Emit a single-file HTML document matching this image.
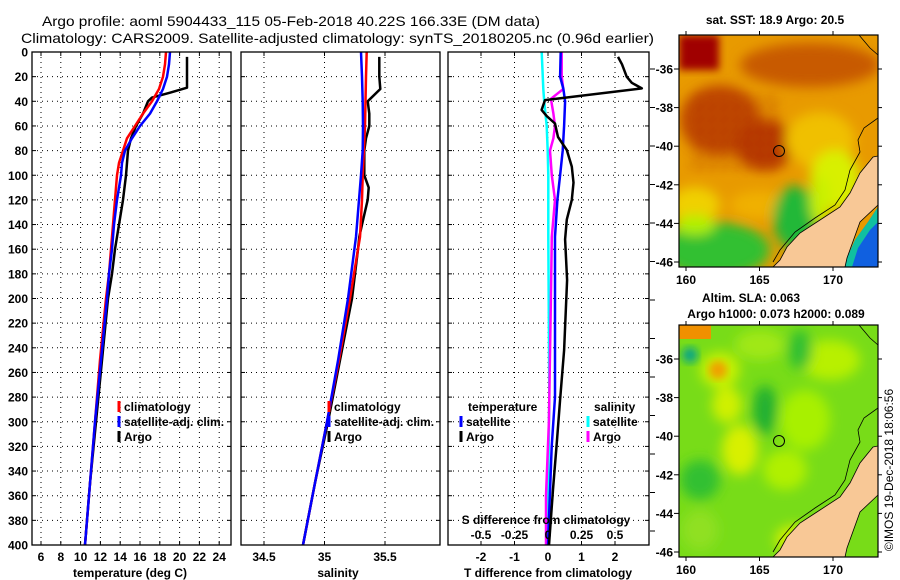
<!DOCTYPE html>
<html><head><meta charset="utf-8">
<style>
html,body{margin:0;padding:0;background:#fff;}
svg{display:block;font-family:"Liberation Sans",sans-serif;}
.t{font-size:12px;font-weight:bold;fill:#000;}
.ttl{font-size:14px;fill:#000;}
</style></head>
<body>
<svg id="fig" width="900" height="580" viewBox="0 0 900 580" xmlns="http://www.w3.org/2000/svg">
<rect x="0" y="0" width="900" height="580" fill="#fff"/>
<text class="ttl" x="42" y="26" textLength="498" lengthAdjust="spacingAndGlyphs">Argo profile: aoml 5904433_115 05-Feb-2018 40.22S 166.33E (DM data)</text>
<text class="ttl" x="21" y="43" textLength="633" lengthAdjust="spacingAndGlyphs">Climatology: CARS2009. Satellite-adjusted climatology: synTS_20180205.nc (0.96d earlier)</text>

<g id="p1"></g>
<g id="p2"></g>
<g id="p3"></g>

<defs>
<filter id="bl" x="-20%" y="-20%" width="140%" height="140%"><feGaussianBlur stdDeviation="6"/></filter>
<filter id="bl2" x="-20%" y="-20%" width="140%" height="140%"><feGaussianBlur stdDeviation="4"/></filter>
<clipPath id="c1"><rect x="679" y="35" width="199" height="232"/></clipPath>
<clipPath id="c2"><rect x="679" y="325" width="199" height="232"/></clipPath>
<pattern id="mottle" width="12" height="12" patternUnits="userSpaceOnUse">
<rect x="0" y="0" width="4" height="4" fill="#a81800"/><rect x="8" y="4" width="4" height="4" fill="#c05000"/><rect x="4" y="8" width="4" height="4" fill="#a00000"/>
</pattern>
</defs>

<!-- SST map -->
<g>
<text class="t" x="775" y="24" text-anchor="middle">sat. SST: 18.9 Argo: 20.5</text>
<g clip-path="url(#c1)">
<rect x="679" y="35" width="199" height="232" fill="#e89a00"/>
<g filter="url(#bl)">
<ellipse cx="810" cy="65" rx="70" ry="22" fill="#c85a00"/>
<ellipse cx="720" cy="120" rx="40" ry="35" fill="#c04800"/>
<ellipse cx="765" cy="145" rx="30" ry="25" fill="#b83a00"/>
<ellipse cx="820" cy="140" rx="35" ry="28" fill="#f0c000"/>
<ellipse cx="695" cy="205" rx="25" ry="18" fill="#f0d000"/>
<ellipse cx="760" cy="205" rx="30" ry="14" fill="#f0b000"/>
<ellipse cx="835" cy="180" rx="25" ry="30" fill="#d8f000"/>
<ellipse cx="715" cy="250" rx="55" ry="28" fill="#30c030"/>
<ellipse cx="695" cy="225" rx="20" ry="10" fill="#b0f000"/>
<ellipse cx="795" cy="218" rx="22" ry="32" fill="#20b838"/>
<ellipse cx="820" cy="200" rx="10" ry="25" fill="#c8f000"/>
</g>
<rect x="690" y="95" width="90" height="75" fill="url(#mottle)" opacity="0.5" filter="url(#bl2)"/>
<rect x="679" y="35" width="40" height="35" fill="#a00000" filter="url(#bl2)"/>
<polygon points="878,207 868,222 855,240 847,258 845,267 878,267" fill="#1060e0"/>
<polygon points="878,207 868,222 855,240 847,258 845,267 852,267 858,248 870,230 878,222" fill="#10c0a0"/>
<polygon points="873,157 878,156 878,205 860,222 847,258 845,267 773,267 780,260 787,247 800,233 820,220 840,207 850,193 860,173" fill="#f8c896" stroke="#000" stroke-width="0.8"/>
<polyline points="859,35 870,48 878,55" fill="none" stroke="#000" stroke-width="0.8"/>
<polyline points="878,118 864,128 858,140 860,152 850,170 845,190 835,205 815,218 795,232 780,250 773,262" fill="none" stroke="#000" stroke-width="0.8"/>
<circle cx="779" cy="151" r="5.5" fill="none" stroke="#000" stroke-width="1"/>
</g>
<rect x="679" y="35" width="199" height="232" fill="none" stroke="#000" stroke-width="1.2"/>
</g>

<!-- SLA map -->
<g>
<text class="t" x="751" y="302" text-anchor="middle">Altim. SLA: 0.063</text>
<text class="t" x="776" y="318" text-anchor="middle">Argo h1000: 0.073 h2000: 0.089</text>
<g clip-path="url(#c2)">
<rect x="679" y="325" width="199" height="232" fill="#78dc18"/>
<g filter="url(#bl)">
<ellipse cx="720" cy="370" rx="20" ry="18" fill="#c8f000"/>
<ellipse cx="760" cy="345" rx="25" ry="15" fill="#a0e818"/>
<ellipse cx="830" cy="360" rx="30" ry="20" fill="#b8f000"/>
<ellipse cx="727" cy="405" rx="15" ry="18" fill="#d0f000"/>
<ellipse cx="740" cy="450" rx="18" ry="25" fill="#d8f000"/>
<ellipse cx="785" cy="470" rx="22" ry="20" fill="#b0f000"/>
<ellipse cx="805" cy="420" rx="25" ry="30" fill="#a8f000"/>
<ellipse cx="700" cy="480" rx="20" ry="20" fill="#30c030"/>
<ellipse cx="765" cy="410" rx="12" ry="25" fill="#20b030"/>
<ellipse cx="800" cy="350" rx="12" ry="20" fill="#30c030"/>
<ellipse cx="795" cy="540" rx="20" ry="15" fill="#d0f000"/>
<ellipse cx="700" cy="530" rx="18" ry="20" fill="#90e020"/>
</g>
<ellipse cx="718" cy="370" rx="9" ry="9" fill="#f0a000" filter="url(#bl2)"/>
<ellipse cx="690" cy="355" rx="8" ry="8" fill="#10a880" filter="url(#bl2)"/>
<rect x="679" y="325" width="32" height="14" fill="#f09000"/>
<polygon points="873,447 878,446 878,495 860,512 847,548 845,557 773,557 780,550 787,537 800,523 820,510 840,497 850,483 860,463" fill="#f8c896" stroke="#000" stroke-width="0.8"/>
<polyline points="859,325 870,338 878,345" fill="none" stroke="#000" stroke-width="0.8"/>
<polyline points="878,408 864,418 858,430 860,442 850,460 845,480 835,495 815,508 795,522 780,540 773,552" fill="none" stroke="#000" stroke-width="0.8"/>
<circle cx="779" cy="441" r="5.5" fill="none" stroke="#000" stroke-width="1"/>
</g>
<rect x="679" y="325" width="199" height="232" fill="none" stroke="#000" stroke-width="1.2"/>
</g>
<g id="mapaxes"></g>
<text x="893" y="470" font-size="12" text-anchor="middle" transform="rotate(-90 893 470)" style="font-family:'Liberation Sans',sans-serif">©IMOS 19-Dec-2018 18:06:56</text>
</svg>
<script>
// shared depth axis
const depthTicks = [0,20,40,60,80,100,120,140,160,180,200,220,240,260,280,300,320,340,360,380,400];
// temperature panel data
const tempTickLabels = [6,8,10,12,14,16,18,20,22,24];
const climDepth = [0,10,20,30,40,50,60,70,80,90,100,120,140,160,180,200,250,300,350,400];
const climTemp = [18.63,18.53,18.32,17.92,17.21,16.30,15.49,14.69,14.28,13.88,13.68,13.47,13.27,13.07,12.87,12.57,11.96,11.45,10.95,10.44];
const satTemp = [19.03,18.93,18.73,18.32,17.72,17.01,16.0,15.19,14.48,14.18,14.08,13.68,13.37,13.17,12.87,12.67,12.06,11.45,10.95,10.44];
const argoTDepth = [4,10,20,29,33,37,40,50,60,70,80,90,100,120,140,160,180,200,250,300,350,400];
const argoTemp = [20.75,20.75,20.75,20.75,19.03,17.21,16.81,16.30,15.60,15.09,14.79,14.69,14.59,14.28,13.88,13.47,13.17,12.77,12.16,11.56,10.95,10.44];
// salinity panel data
const salTickLabels = [34.5,35,35.5];
const climSDepth = [0,20,40,60,80,100,120,150,200,250,300,350,400];
const climSal = [35.349,35.343,35.339,35.335,35.326,35.316,35.310,35.293,35.211,35.120,35.021,34.921,34.822];
const satSal = [35.302,35.310,35.316,35.318,35.316,35.302,35.285,35.260,35.194,35.112,35.021,34.921,34.822];
const argoSDepth = [4,20,30,40,50,60,70,80,100,110,120,140,150,160,180,200,250,300,350,400];
const argoSal = [35.453,35.453,35.461,35.357,35.370,35.370,35.343,35.329,35.329,35.365,35.357,35.310,35.288,35.277,35.252,35.227,35.128,35.029,34.921,34.822];
// difference panel data
const tdiffTickLabels = [-2,-1,0,1,2];
const sdiffTickLabels = [-0.5,-0.25,0,0.25,0.5];
const argoTdDepth = [4,10,20,25,29.5,39,47,52,58,69,79.5,93,106,120,136,152,185,242,282,315,355,400];
const argoTdiff = [2.09,2.21,2.35,2.50,2.80,-0.09,-0.19,-0.04,0.21,0.30,0.56,0.71,0.76,0.71,0.56,0.51,0.57,0.48,0.36,0.27,0.15,0.03];
const satTdDepth = [0,20,30,40,60,80,100,120,150,200,280,320,400];
const satTdiff = [0.38,0.36,0.46,0.51,0.48,0.44,0.36,0.28,0.21,0.21,0.21,0.11,0.0];
const argoSdDepth = [0,20,30,38,50,60,70,80,100,120,150,200,300,360,400];
const argoSdiff = [0.102,0.102,0.114,0.022,0.040,0.052,0.040,0.015,0.028,0.052,0.028,0.022,0.007,-0.015,-0.015];
const satSdDepth = [0,30,40,60,80,100,150,280,400];
const satSdiff = [-0.047,-0.035,-0.028,-0.010,-0.002,0.002,0.002,0.010,-0.004];
// map axes
const latLabels = [-36,-38,-40,-42,-44,-46];
const lonLabels = [160,165,170];

const NS='http://www.w3.org/2000/svg';
function mk(tag, attrs, parent, txt){const e=document.createElementNS(NS,tag);for(const k in attrs)e.setAttribute(k,attrs[k]);if(txt!==undefined)e.textContent=txt;parent.appendChild(e);return e;}
const Y0=52, Y1=545;
const yD = d => Y0 + d*(Y1-Y0)/400;

function panel(g, L, R, xf, xticks, fmt, gridOnly){
  mk('rect',{x:L,y:Y0,width:R-L,height:Y1-Y0,fill:'#fff',stroke:'none'},g);
  depthTicks.forEach(d=>{
    if(d>0&&d<400){const l=mk('line',{x1:L,x2:R,y1:yD(d),y2:yD(d),stroke:'#000','stroke-width':1,'stroke-dasharray':'1,4'},g);
    
    }
  });
  xticks.forEach(v=>{
    const x=xf(v);
    const l=mk('line',{x1:x,x2:x,y1:Y0,y2:Y1,stroke:'#000','stroke-width':1,'stroke-dasharray':'1,4'},g);
    
    
    mk('line',{x1:x,x2:x,y1:Y1,y2:Y1-4,stroke:'#000'},g);
    mk('line',{x1:x,x2:x,y1:Y0,y2:Y0+4,stroke:'#000'},g);
    if(!gridOnly){const t=mk('text',{x:x,y:561,'text-anchor':'middle',class:'t'},g,fmt(v));
    
    }
  });
  depthTicks.forEach(d=>{mk('line',{x1:L,x2:L+4,y1:yD(d),y2:yD(d),stroke:'#000'},g);mk('line',{x1:R,x2:R-4,y1:yD(d),y2:yD(d),stroke:'#000'},g);});
}
function line(g, xs, ds, xf, color, w, name){
  const pts = xs.map((v,i)=>xf(v).toFixed(1)+','+yD(ds[i]).toFixed(1)).join(' ');
  const p=mk('polyline',{points:pts,fill:'none',stroke:color,'stroke-width':w,'stroke-linejoin':'round'},g);
  
  
}
function frame(g,L,R){mk('rect',{x:L,y:Y0,width:R-L,height:Y1-Y0,fill:'none',stroke:'#000','stroke-width':1.3},g);}
function legendRow(g,x,y,color,label,name){
  mk('line',{x1:x,x2:x,y1:y-10,y2:y+1,stroke:color,'stroke-width':3},g);
  const t=mk('text',{x:x+5,y:y,class:'t'},g,label);
  
  
}

// Panel 1
const g1=document.getElementById('p1');
const xT = v => 41 + (v-6)*9.9;
panel(g1,32,231,xT,tempTickLabels,v=>String(v));
line(g1,argoTemp,argoTDepth,xT,'#000',2.5,'argo-temperature-line');
line(g1,climTemp,climDepth,xT,'#f00',2.5,'climatology-temperature-line');
line(g1,satTemp,climDepth,xT,'#00f',2.5,'satellite-temperature-line');
frame(g1,32,231);
depthTicks.forEach(d=>{const t=mk('text',{x:28,y:yD(d)+4.5,'text-anchor':'end',class:'t'},g1,String(d));

});
legendRow(g1,119,411,'#f00','climatology','legend-climatology');
legendRow(g1,119,426,'#00f','satellite-adj. clim.','legend-satellite-adj');
legendRow(g1,119,441,'#000','Argo','legend-argo');
const xt1=mk('text',{x:130,y:577,'text-anchor':'middle',class:'t'},g1,'temperature (deg C)');



// Panel 2
const g2=document.getElementById('p2');
const xS = v => 264 + (v-34.5)*121;
panel(g2,241,440,xS,salTickLabels,v=>String(v));
line(g2,argoSal,argoSDepth,xS,'#000',2.5,'argo-salinity-line');
line(g2,climSal,climSDepth,xS,'#f00',2.5,'climatology-salinity-line');
line(g2,satSal,climSDepth,xS,'#00f',2.5,'satellite-salinity-line');
frame(g2,241,440);
legendRow(g2,329,411,'#f00','climatology','legend-climatology-2');
legendRow(g2,329,426,'#00f','satellite-adj. clim.','legend-satellite-adj-2');
legendRow(g2,329,441,'#000','Argo','legend-argo-2');
const xt2=mk('text',{x:338,y:577,'text-anchor':'middle',class:'t'},g2,'salinity');



// Panel 3
const g3=document.getElementById('p3');
const xTd = v => 548 + v*33.5;
const xSd = v => 548 + v*134;
panel(g3,448,649,xTd,tdiffTickLabels,v=>String(v));
line(g3,satSdiff,satSdDepth,xSd,'#00ffff',2.5,'satellite-salinity-diff-line');
line(g3,argoSdiff,argoSdDepth,xSd,'#ff00ff',2.5,'argo-salinity-diff-line');
line(g3,satTdiff,satTdDepth,xTd,'#00f',2.5,'satellite-temperature-diff-line');
line(g3,argoTdiff,argoTdDepth,xTd,'#000',2.5,'argo-temperature-diff-line');
frame(g3,448,649);
for(let k=0;k<13;k++){mk('line',{x1:650,x2:655,y1:69+k*38.5,y2:69+k*38.5,stroke:'#000'},g3);}
const lt=mk('text',{x:468,y:411,class:'t'},g3,'temperature');


const ls=mk('text',{x:594,y:411,class:'t'},g3,'salinity');


legendRow(g3,461,426,'#00f','satellite','legend-temperature-satellite');
legendRow(g3,461,441,'#000','Argo','legend-temperature-argo');
legendRow(g3,588,426,'#00ffff','satellite','legend-salinity-satellite');
legendRow(g3,588,441,'#ff00ff','Argo','legend-salinity-argo');
const sdt=mk('text',{x:546,y:524,'text-anchor':'middle',class:'t'},g3,'S difference from climatology');


sdiffTickLabels.forEach(v=>{const t=mk('text',{x:xSd(v),y:539,'text-anchor':'middle',class:'t'},g3,String(v));

});
const xt3=mk('text',{x:548,y:577,'text-anchor':'middle',class:'t'},g3,'T difference from climatology');



// Map axes
const ga=document.getElementById('mapaxes');
const lonX = v => 686 + (v-160)*14.7;
[[35,267,69,284],[325,557,359,574]].forEach(([top,bot,lat36,labY])=>{
  latLabels.forEach(v=>{const y=lat36+(-36-v)*19.3;
    mk('line',{x1:679,x2:674,y1:y,y2:y,stroke:'#000'},ga);
    mk('line',{x1:878,x2:882,y1:y,y2:y,stroke:'#000'},ga);
    const t=mk('text',{x:673,y:y+4.5,'text-anchor':'end',class:'t'},ga,String(v));
    
    });
  lonLabels.forEach(v=>{const x=lonX(v);
    mk('line',{x1:x,x2:x,y1:bot,y2:bot+4,stroke:'#000'},ga);
    mk('line',{x1:x,x2:x,y1:top,y2:top-4,stroke:'#000'},ga);
    const t=mk('text',{x:x,y:labY,'text-anchor':'middle',class:'t'},ga,String(v));
    
    });
});
</script>
</body></html>
